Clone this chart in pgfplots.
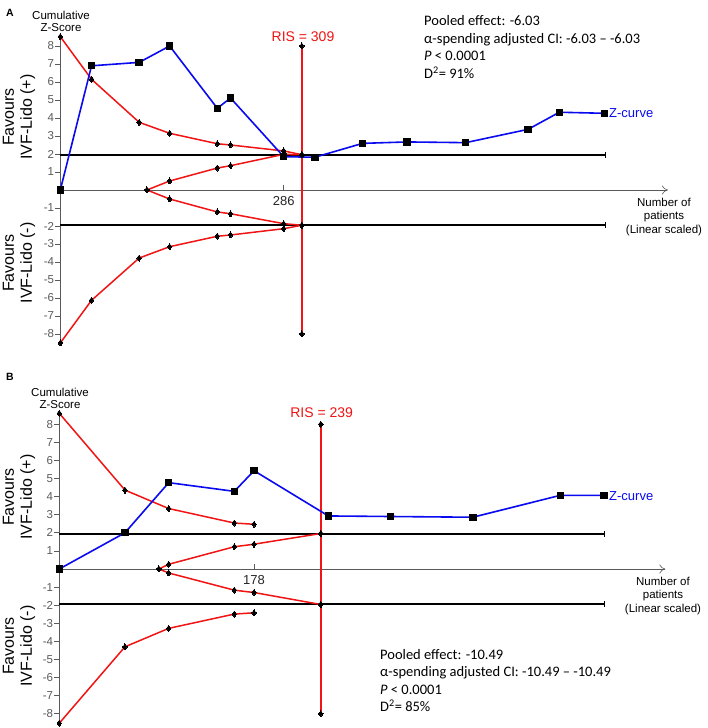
\documentclass[border=0pt]{standalone}
\usepackage{pgfplots}
\pgfplotsset{compat=1.18}
\usepackage{fontspec}
\setmainfont{Liberation Sans}
\newfontfamily\calibri{Carlito}
\usetikzlibrary{arrows.meta}

\definecolor{zblue}{RGB}{10,10,240}
\definecolor{tsared}{RGB}{240,20,20}
\definecolor{axgray}{RGB}{90,90,90}

% common look of both trial sequential panels
\pgfplotsset{
  tsa/.style={
    axis x line*=middle, axis y line*=left,
    x axis line style={-{To[length=6pt,width=9pt]}, draw=axgray, line width=0.6pt},
    y axis line style={-, draw=axgray, line width=0.6pt},
    ymin=-8.6, ymax=8.6,
    ytick={-8,-7,-6,-5,-4,-3,-2,-1,1,2,3,4,5,6,7,8},
    yticklabels={-8,-7,-6,-5,-4,-3,-2,-1,1,2,3,4,5,6,7,8},
    ytick align=outside, xtick align=inside,
    major tick length=5pt,
    tick style={draw=axgray, line width=0.6pt},
    yticklabel style={font=\fontsize{11.5}{12}\selectfont, text=axgray, inner sep=1pt},
    xticklabel style={font=\fontsize{13}{14}\selectfont, text=black!85, yshift=-3pt},
    clip=false,
  },
  zcurve/.style={draw=zblue, line width=1.6pt, mark=square*, mark size=3.2pt,
    mark options={fill=black, draw=black, line width=0pt}},
  bound/.style={draw=tsared, line width=1.5pt, mark=diamond*, mark size=3pt,
    mark options={fill=black, draw=black, line width=0pt}},
  rismark/.style={only marks, mark=diamond*, mark size=3pt,
    mark options={fill=black, draw=black, line width=0pt}},
  conv/.style={draw=black, line width=2pt, mark=|, mark indices={2}, mark size=3pt,
    mark options={line width=1.2pt}},
}

\begin{document}
\begin{tikzpicture}
\path[use as bounding box, fill=white] (0pt,0pt) rectangle (708pt,728pt);

% ---------------- panel A ----------------
\begin{axis}[tsa, at={(60.3pt,538pt)}, anchor=origin,
  x=0.781pt, y=18pt, xmin=0, xmax=778, xtick={286}, xticklabels={286}]
% RIS
\addplot[draw=tsared, line width=1.6pt, mark=none] coordinates {(309.3,8) (309.3,-8)};
\addplot[rismark] coordinates {(309.3,8) (309.3,1.96) (309.3,-1.96) (309.3,-8)};
\addplot[conv] coordinates {(0,1.96) (698,1.96)};
\addplot[conv] coordinates {(0,-1.96) (698,-1.96)};
% outer boundaries
\addplot[bound] coordinates {(0,8.52) (40,6.15) (101,3.76) (140,3.15) (201,2.57) (218,2.50) (286,2.17) (309.3,1.96)};
\addplot[bound] coordinates {(0,-8.50) (40,-6.13) (101,-3.78) (140,-3.15) (201,-2.57) (218,-2.50) (286,-2.15) (309.3,-1.96)};
% futility wedge
\addplot[bound] coordinates {(111,0) (140,0.50) (201,1.22) (218,1.35) (286,1.98) (309.3,1.96)};
\addplot[bound] coordinates {(111,0) (140,-0.50) (201,-1.22) (218,-1.32) (286,-1.87) (309.3,-1.96)};
% Z-curve
\addplot[zcurve] coordinates {(0,0) (40,6.90) (101,7.09) (140,8.00) (201,4.54) (218,5.11) (286,1.85) (326,1.82) (387,2.59) (444,2.67) (519,2.63) (599,3.37) (639,4.32) (697,4.26)};
\end{axis}

% ---------------- panel B ----------------
\begin{axis}[tsa, at={(59.3pt,159pt)}, anchor=origin,
  x=1.094pt, y=18.1pt, xmin=0, xmax=554, xtick={178}, xticklabels={178}]
\addplot[draw=tsared, line width=1.6pt, mark=none] coordinates {(239,8) (239,-8)};
\addplot[rismark] coordinates {(239,8) (239,1.96) (239,-1.96) (239,-8)};
\addplot[conv] coordinates {(0,1.96) (498,1.96)};
\addplot[conv] coordinates {(0,-1.96) (498,-1.96)};
\addplot[bound] coordinates {(0,8.60) (60,4.36) (100,3.34) (160,2.54) (178,2.47)};
\addplot[bound] coordinates {(0,-8.52) (60,-4.30) (100,-3.28) (160,-2.49) (178,-2.42)};
\addplot[bound] coordinates {(91,0) (100,0.26) (160,1.23) (178,1.37) (239,1.96)};
\addplot[bound] coordinates {(91,0) (100,-0.22) (160,-1.17) (178,-1.30) (239,-1.96)};
\addplot[zcurve] coordinates {(0,0) (60,2.00) (100,4.77) (160,4.29) (178,5.43) (246,2.93) (303,2.90) (378,2.86) (458,4.07) (498,4.07)};
\end{axis}

% ---------------- texts ----------------
\begin{scope}[every node/.style={inner sep=0pt}]
\node[font=\fontsize{10.5}{11}\selectfont\bfseries] at (10pt,715.5pt) {A};
\node[font=\fontsize{10.5}{11}\selectfont\bfseries] at (10pt,351pt) {B};

\node[align=center, font=\fontsize{11.5}{12.4}\selectfont] at (61pt,706.5pt) {Cumulative\\Z-Score};
\node[align=center, font=\fontsize{11.5}{12.4}\selectfont] at (60pt,329.5pt) {Cumulative\\Z-Score};

\node[rotate=90, align=center, font=\fontsize{16}{18}\selectfont] at (19pt,611pt) {Favours\\IVF-Lido (+)};
\node[rotate=90, align=center, font=\fontsize{16}{18}\selectfont] at (19pt,465pt) {Favours\\IVF-Lido (-)};
\node[rotate=90, align=center, font=\fontsize{16}{18}\selectfont] at (19pt,231pt) {Favours\\IVF-Lido (+)};
\node[rotate=90, align=center, font=\fontsize{16}{18}\selectfont] at (19pt,82pt) {Favours\\IVF-Lido (-)};

\node[text=tsared, font=\fontsize{14}{15}\selectfont] at (303pt,691.3pt) {RIS = 309};
\node[text=tsared, font=\fontsize{14}{15}\selectfont] at (321.7pt,315pt) {RIS = 239};

\node[anchor=west, text=zblue, font=\fontsize{13}{14}\selectfont] at (609pt,615pt) {Z-curve};
\node[anchor=west, text=zblue, font=\fontsize{13}{14}\selectfont] at (609pt,232.3pt) {Z-curve};

\node[align=center, font=\fontsize{11.5}{13.4}\selectfont] at (664pt,511.3pt) {Number of\\patients\\(Linear scaled)};
\node[align=center, font=\fontsize{11.5}{13.4}\selectfont] at (663pt,132pt) {Number of\\patients\\(Linear scaled)};

\node[anchor=west, align=left, font=\calibri\fontsize{14.5}{17.6}\selectfont] at (424pt,681pt)
  {Pooled effect: -6.03\\α-spending adjusted CI: -6.03 – -6.03\\\textit{P} < 0.0001\\D\textsuperscript{2}= 91\%};
\node[anchor=west, align=left, font=\calibri\fontsize{14.5}{17.6}\selectfont] at (380pt,47.5pt)
  {Pooled effect: -10.49\\α-spending adjusted CI: -10.49 – -10.49\\\textit{P} < 0.0001\\D\textsuperscript{2}= 85\%};
\end{scope}
\end{tikzpicture}
\end{document}
